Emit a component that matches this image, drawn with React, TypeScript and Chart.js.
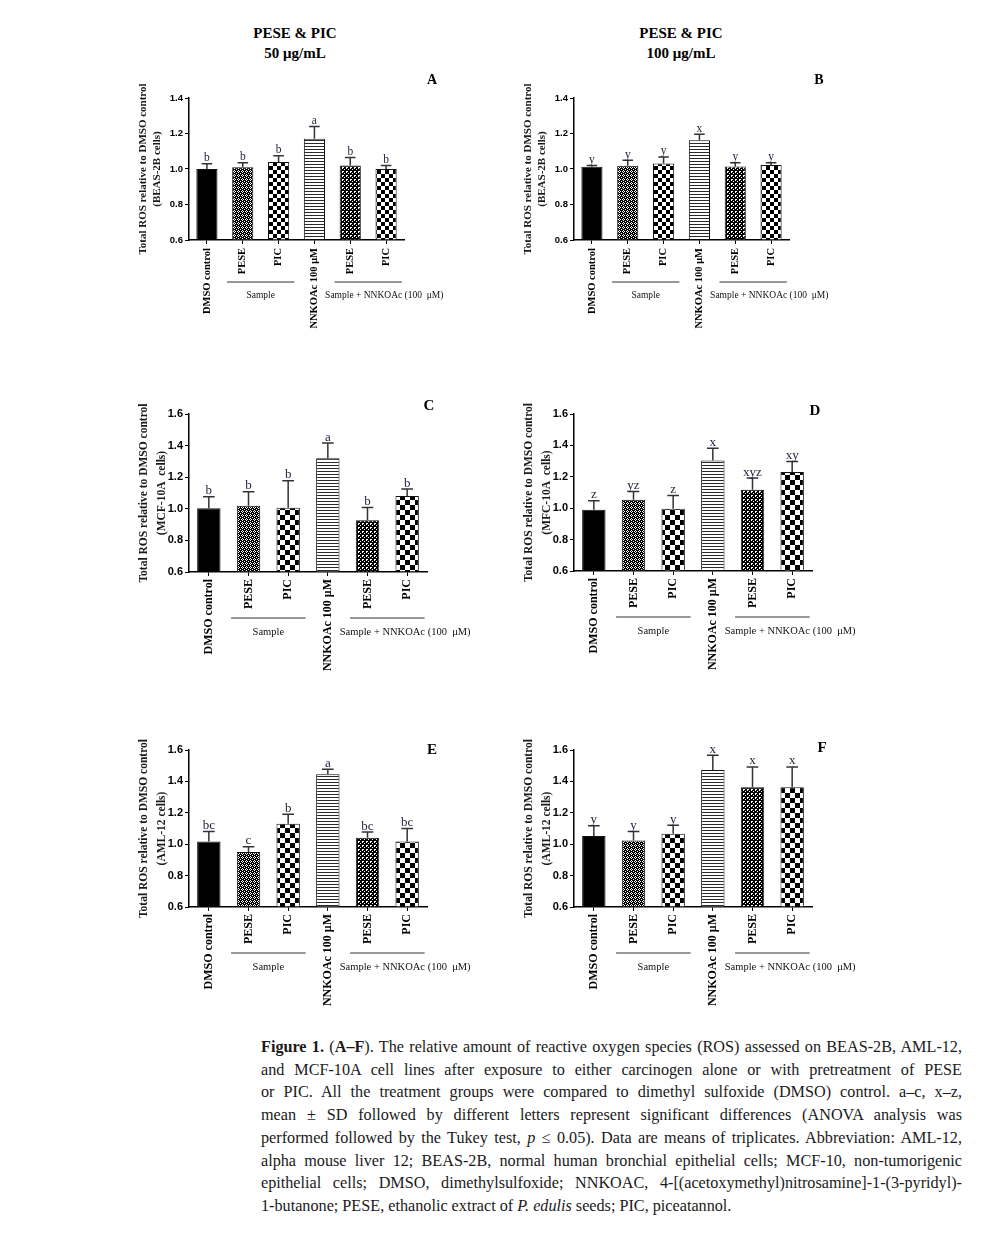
import React, { useEffect, useRef } from 'react';
import { Chart, registerables } from 'chart.js';

Chart.register(...registerables);

const SERIF = '"Liberation Serif", "Times New Roman", serif';
const SANS = '"Liberation Sans", Arial, sans-serif';

// ---------- data ----------
const categories = ['DMSO control', 'PESE', 'PIC', 'NNKOAc 100 μM', 'PESE', 'PIC'];
const groupLabels = ['Sample', 'Sample + NNKOAc (100  μM)'];
const ticksBEAS = [0.6, 0.8, 1.0, 1.2, 1.4];
const ticksWide = [0.6, 0.8, 1.0, 1.2, 1.4, 1.6];
const headerTitle = 'PESE & PIC';
const doseLabels = ['50 μg/mL', '100 μg/mL'];

const meanA = [1.0, 1.01, 1.04, 1.17, 1.02, 1.0];
const sdA = [0.03, 0.025, 0.035, 0.07, 0.045, 0.02];
const lettersA = ['b', 'b', 'b', 'a', 'b', 'b'];

const meanB = [1.012, 1.018, 1.031, 1.162, 1.014, 1.023];
const sdB = [0.008, 0.032, 0.037, 0.034, 0.021, 0.012];
const lettersB = ['y', 'y', 'y', 'x', 'y', 'y'];

const meanC = [1.003, 1.019, 1.007, 1.32, 0.928, 1.081];
const sdC = [0.074, 0.089, 0.171, 0.096, 0.081, 0.044];
const lettersC = ['b', 'b', 'b', 'a', 'b', 'b'];

const meanD = [0.99, 1.054, 0.997, 1.304, 1.117, 1.23];
const sdD = [0.058, 0.053, 0.084, 0.078, 0.075, 0.067];
const lettersD = ['z', 'yz', 'z', 'x', 'xyz', 'xy'];

const meanE = [1.017, 0.95, 1.13, 1.445, 1.041, 1.017];
const sdE = [0.064, 0.033, 0.061, 0.032, 0.036, 0.083];
const lettersE = ['bc', 'c', 'b', 'a', 'bc', 'bc'];

const meanF = [1.053, 1.023, 1.066, 1.473, 1.363, 1.363];
const sdF = [0.064, 0.058, 0.055, 0.093, 0.129, 0.129];
const lettersF = ['y', 'y', 'y', 'x', 'x', 'x'];

const yTitle = 'Total ROS relative to DMSO control';

// ---------- layout ----------
type PanelCfg = {
  tag: string;
  mean: number[];
  sd: number[];
  letters: string[];
  cell: string;
  ticks: number[];
  canvas: { x: number; y: number; w: number; h: number };
  plot: { l: number; r: number; t: number; b: number };
  tagPos: [number, number];
  big: boolean;
};

const panels: PanelCfg[] = [
  { tag: 'A', mean: meanA, sd: sdA, letters: lettersA, cell: '(BEAS-2B cells)', ticks: ticksBEAS,
    canvas: { x: 125, y: 62, w: 345, h: 282 }, plot: { l: 189, r: 404, t: 98, b: 240 }, tagPos: [432, 80], big: false },
  { tag: 'B', mean: meanB, sd: sdB, letters: lettersB, cell: '(BEAS-2B cells)', ticks: ticksBEAS,
    canvas: { x: 510, y: 62, w: 345, h: 282 }, plot: { l: 574, r: 789, t: 98, b: 240 }, tagPos: [819, 80], big: false },
  { tag: 'C', mean: meanC, sd: sdC, letters: lettersC, cell: '(MCF-10A  cells)', ticks: ticksWide,
    canvas: { x: 125, y: 390, w: 365, h: 292 }, plot: { l: 189, r: 427, t: 414, b: 572 }, tagPos: [429, 406], big: true },
  { tag: 'D', mean: meanD, sd: sdD, letters: lettersD, cell: '(MFC-10A  cells)', ticks: ticksWide,
    canvas: { x: 510, y: 390, w: 365, h: 292 }, plot: { l: 574, r: 812, t: 414, b: 571 }, tagPos: [815, 411], big: true },
  { tag: 'E', mean: meanE, sd: sdE, letters: lettersE, cell: '(AML-12 cells)', ticks: ticksWide,
    canvas: { x: 125, y: 728, w: 365, h: 292 }, plot: { l: 189, r: 427, t: 750, b: 907 }, tagPos: [432, 750], big: true },
  { tag: 'F', mean: meanF, sd: sdF, letters: lettersF, cell: '(AML-12 cells)', ticks: ticksWide,
    canvas: { x: 510, y: 728, w: 365, h: 292 }, plot: { l: 574, r: 812, t: 750, b: 907 }, tagPos: [822, 748], big: true },
];

// ---------- patterns ----------
function makePattern(ctx: CanvasRenderingContext2D, w: number, h: number, draw: (g: CanvasRenderingContext2D) => void) {
  const c = document.createElement('canvas');
  c.width = w;
  c.height = h;
  const g = c.getContext('2d')!;
  draw(g);
  return ctx.createPattern(c, 'repeat') as CanvasPattern;
}

function buildFills(ctx: CanvasRenderingContext2D, big: boolean) {
  const s = big ? 5 : 4;
  const dots = makePattern(ctx, 4, 4, (g) => {
    g.fillStyle = '#000';
    g.fillRect(0, 0, 4, 4);
    g.fillStyle = '#fff';
    g.fillRect(1, 0, 1, 1);
    g.fillRect(0, 1, 1, 1);
    g.fillRect(2, 1, 1, 1);
    g.fillRect(1, 2, 1, 1);
    g.fillRect(3, 3, 1, 1);
  });
  const dots2 = makePattern(ctx, 4, 4, (g) => {
    g.fillStyle = '#000';
    g.fillRect(0, 0, 4, 4);
    g.fillStyle = '#fff';
    g.fillRect(1, 1, 2, 1);
    g.fillRect(1, 2, 1, 1);
    g.fillRect(3, 3, 1, 1);
  });
  const checker = makePattern(ctx, s * 2, s * 2, (g) => {
    g.fillStyle = '#fff';
    g.fillRect(0, 0, s * 2, s * 2);
    g.fillStyle = '#000';
    g.fillRect(0, 0, s, s);
    g.fillRect(s, s, s, s);
  });
  const lines = makePattern(ctx, 4, 3, (g) => {
    g.fillStyle = '#fff';
    g.fillRect(0, 0, 4, 3);
    g.fillStyle = '#2a2a2a';
    g.fillRect(0, 0, 4, 1);
  });
  return ['#000', dots, checker, lines, dots2, checker];
}

// ---------- panel ----------
function Panel({ p }: { p: PanelCfg }) {
  const ref = useRef<HTMLCanvasElement>(null);

  useEffect(() => {
    const canvas = ref.current!;
    const ctx = canvas.getContext('2d')!;
    const fills = buildFills(ctx, p.big);
    const ox = p.canvas.x;
    const oy = p.canvas.y;

    const overlay = {
      id: 'overlay' + p.tag,
      afterDatasetsDraw(chart: any) {
        const c = chart.ctx as CanvasRenderingContext2D;
        const meta = chart.getDatasetMeta(0);
        const ys = chart.scales.y;
        meta.data.forEach((bar: any, i: number) => {
          const topPx = ys.getPixelForValue(p.mean[i] + p.sd[i]);
          const barTop = ys.getPixelForValue(p.mean[i]);
          const cap = bar.width * 0.5;
          c.save();
          c.strokeStyle = '#333';
          c.lineWidth = 1.5;
          c.beginPath();
          c.moveTo(bar.x, barTop);
          c.lineTo(bar.x, topPx);
          c.moveTo(bar.x - cap / 2, topPx);
          c.lineTo(bar.x + cap / 2, topPx);
          c.stroke();
          c.fillStyle = '#1e1e38';
          c.font = `${p.big ? 13 : 11.5}px ${SERIF}`;
          c.textAlign = 'center';
          c.textBaseline = 'alphabetic';
          c.fillText(p.letters[i], bar.x, topPx - 2.5);
          c.restore();
        });
      },
      afterDraw(chart: any) {
        const c = chart.ctx as CanvasRenderingContext2D;
        const xs = chart.scales.x;
        const area = chart.chartArea;
        const cat = xs.getPixelForValue(1) - xs.getPixelForValue(0);
        c.save();
        // group lines
        const lineY = area.bottom + (p.big ? 46 : 42);
        const labY = area.bottom + (p.big ? 60 : 55);
        const g1a = xs.getPixelForValue(1) - 0.44 * cat;
        const g1b = xs.getPixelForValue(2) + 0.44 * cat;
        const g2a = xs.getPixelForValue(4) - 0.44 * cat;
        const g2b = xs.getPixelForValue(5) + 0.44 * cat;
        c.strokeStyle = '#333';
        c.lineWidth = 1.2;
        c.beginPath();
        c.moveTo(g1a, lineY);
        c.lineTo(g1b, lineY);
        c.moveTo(g2a, lineY);
        c.lineTo(g2b, lineY);
        c.stroke();
        c.fillStyle = '#111';
        c.font = `${p.big ? 10.5 : 9.5}px ${SERIF}`;
        c.textAlign = 'center';
        c.textBaseline = 'middle';
        c.fillText(groupLabels[0], (g1a + g1b) / 2, labY);
        c.fillText(groupLabels[1], (g2a + g2b) / 2 + 0.45 * cat, labY);
        // y title
        const yc = (area.top + area.bottom) / 2;
        const off = p.big ? [45, 27] : [46, 32];
        c.font = `bold ${p.big ? 11.5 : 11}px ${SERIF}`;
        c.fillStyle = '#1a1a1a';
        c.save();
        c.translate(area.left - off[0], yc);
        c.rotate(-Math.PI / 2);
        c.fillText(yTitle, 0, 0);
        c.restore();
        c.save();
        c.translate(area.left - off[1], yc);
        c.rotate(-Math.PI / 2);
        c.fillText(p.cell, 0, 0);
        c.restore();
        // panel tag
        c.font = `bold ${p.big ? 15 : 14}px ${SERIF}`;
        c.fillStyle = '#000';
        c.fillText(p.tag, p.tagPos[0] - ox, p.tagPos[1] - oy);
        c.restore();
      },
    };

    const chart = new Chart(ctx, {
      type: 'bar',
      data: {
        labels: categories,
        datasets: [
          {
            data: p.mean,
            backgroundColor: fills as any,
            borderColor: '#111',
            borderWidth: 1,
            base: 0.6,
            barPercentage: 0.59,
            categoryPercentage: 1,
          } as any,
        ],
      },
      options: {
        responsive: false,
        animation: false,
        devicePixelRatio: 1,
        layout: {
          padding: {
            left: 0,
            top: p.plot.t - p.canvas.y,
            right: p.canvas.x + p.canvas.w - p.plot.r,
            bottom: 0,
          },
        },
        plugins: {
          legend: { display: false },
          tooltip: { enabled: false },
          title: { display: false },
        },
        scales: {
          x: {
            type: 'category',
            offset: true,
            z: 1,
            grid: { display: true, drawOnChartArea: false, drawTicks: true, tickLength: 4, offset: false, color: '#000', lineWidth: 1 },
            border: { display: true, color: '#000', width: 1.5 },
            ticks: {
              autoSkip: false,
              maxRotation: 90,
              minRotation: 90,
              padding: p.big ? 3 : 4,
              color: '#000',
              font: { family: SERIF, weight: 'bold', size: p.big ? 12 : 10.5 },
            },
            afterFit: (s: any) => {
              s.height = p.canvas.y + p.canvas.h - p.plot.b;
            },
          } as any,
          y: {
            min: p.ticks[0],
            max: p.ticks[p.ticks.length - 1],
            z: 1,
            afterBuildTicks: (s: any) => {
              s.ticks = p.ticks.map((v) => ({ value: v }));
            },
            ticks: {
              callback: (v: any) => Number(v).toFixed(1),
              color: '#000',
              padding: 2,
              font: { family: SANS, weight: 'bold', size: p.big ? 11 : 9.5 },
            },
            grid: { display: true, drawOnChartArea: false, drawTicks: true, tickLength: 4, color: '#000', lineWidth: 1 },
            border: { display: true, color: '#000', width: 1.5 },
            afterFit: (s: any) => {
              s.width = p.plot.l - p.canvas.x;
            },
          } as any,
        },
      },
      plugins: [overlay as any],
    });
    return () => chart.destroy();
  }, []);

  return (
    <canvas
      ref={ref}
      width={p.canvas.w}
      height={p.canvas.h}
      style={{ position: 'absolute', left: p.canvas.x, top: p.canvas.y, width: p.canvas.w, height: p.canvas.h }}
    />
  );
}

const headStyle: React.CSSProperties = {
  position: 'absolute',
  width: 220,
  textAlign: 'center',
  fontFamily: SERIF,
  fontWeight: 'bold',
  fontSize: 15,
  lineHeight: '20px',
  color: '#000',
};

const lineStyle: React.CSSProperties = { textAlign: 'justify', textAlignLast: 'justify' as any, whiteSpace: 'normal' };

export default function App() {
  return (
    <div style={{ position: 'absolute', left: 0, top: 0, width: 988, height: 1244, background: '#fff', overflow: 'hidden' }}>
      <div style={{ ...headStyle, left: 295 - 110, top: 23 }}>{headerTitle}</div>
      <div style={{ ...headStyle, left: 295 - 110, top: 43 }}>{doseLabels[0]}</div>
      <div style={{ ...headStyle, left: 681 - 110, top: 23 }}>{headerTitle}</div>
      <div style={{ ...headStyle, left: 681 - 110, top: 43 }}>{doseLabels[1]}</div>
      {panels.map((p) => (
        <Panel key={p.tag} p={p} />
      ))}
      <div
        style={{
          position: 'absolute',
          left: 261,
          top: 1036,
          width: 701,
          fontFamily: SERIF,
          fontSize: 16.2,
          lineHeight: '22.7px',
          color: '#1a1a1a',
        }}
      >
        <div style={lineStyle}>
          <b>Figure 1.</b> (<b>A–F</b>). The relative amount of reactive oxygen species (ROS) assessed on BEAS-2B, AML-12,
        </div>
        <div style={lineStyle}>and MCF-10A cell lines after exposure to either carcinogen alone or with pretreatment of PESE</div>
        <div style={lineStyle}>or PIC. All the treatment groups were compared to dimethyl sulfoxide (DMSO) control. a–c, x–z,</div>
        <div style={lineStyle}>mean ± SD followed by different letters represent significant differences (ANOVA analysis was</div>
        <div style={lineStyle}>
          performed followed by the Tukey test, <i>p</i> ≤ 0.05). Data are means of triplicates. Abbreviation: AML-12,
        </div>
        <div style={lineStyle}>alpha mouse liver 12; BEAS-2B, normal human bronchial epithelial cells; MCF-10, non-tumorigenic</div>
        <div style={lineStyle}>epithelial cells; DMSO, dimethylsulfoxide; NNKOAC, 4-[(acetoxymethyl)nitrosamine]-1-(3-pyridyl)-</div>
        <div style={{ textAlign: 'left' }}>
          1-butanone; PESE, ethanolic extract of <i>P. edulis</i> seeds; PIC, piceatannol.
        </div>
      </div>
    </div>
  );
}
